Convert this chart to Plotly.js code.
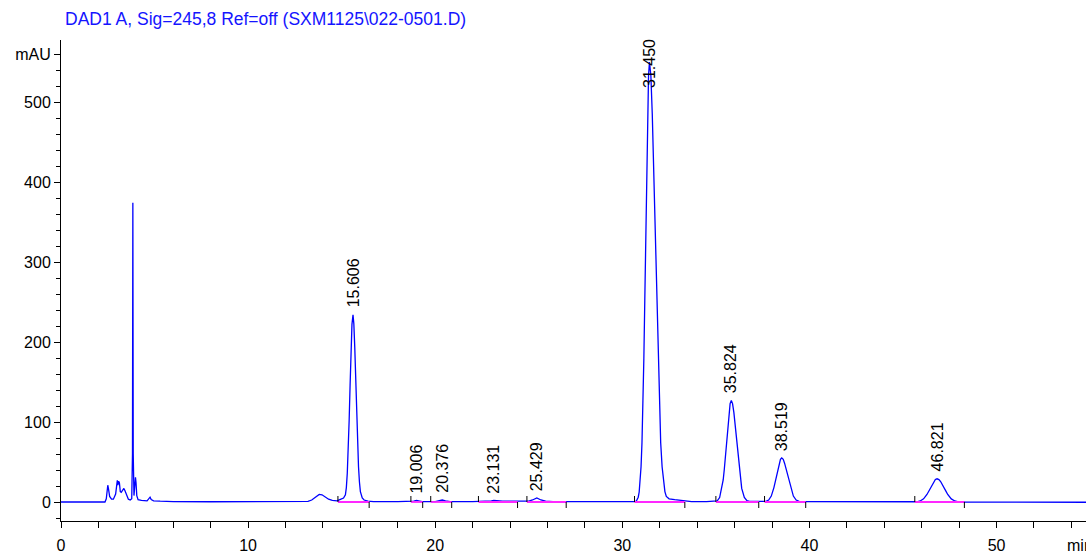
<!DOCTYPE html>
<html><head><meta charset="utf-8">
<script src="https://cdn.plot.ly/plotly-3.0.1.min.js"></script>
<style>html,body{margin:0;padding:0;background:#fff;}#chart{width:1086px;height:554px;}</style>
</head><body><div id="chart"></div>
<script>
// ---- data ----
const titleText = 'DAD1 A, Sig=245,8 Ref=off (SXM1125\\022-0501.D)';
const xTickVals = [0, 10, 20, 30, 40, 50];
const yTickVals = [0, 100, 200, 300, 400, 500, 560];
const yTickText = ['0', '100', '200', '300', '400', '500', 'mAU'];

// signal: [retention time (min), absorbance (mAU)]
const signalPoints = [
  [0,0],[1.5,0],[2.35,0],[2.42,4],[2.47,16],[2.50,21],[2.54,16],[2.60,7],[2.70,3.5],[2.80,3.5],
  [2.92,10],[2.98,25],[3.01,27],[3.04,21],[3.08,26],[3.12,24],[3.17,13],[3.22,12],[3.30,16],[3.36,17],
  [3.42,14],[3.50,8],[3.60,3.5],[3.70,2.5],[3.78,4],[3.82,60],[3.84,374],[3.86,60],[3.90,8],[3.94,20],
  [3.98,31],[4.01,24],[4.05,8],[4.12,3],[4.30,2],[4.60,1.5],[4.70,4],[4.76,6],[4.82,3],[4.95,1.5],
  [5.3,1],[6.0,0.5],[8.0,0.3],[10.0,0.2],[12.0,0.3],[13.2,0.8],[13.4,2.5],[13.6,6.5],[13.8,9.5],[13.95,9],
  [14.1,6.5],[14.3,3.5],[14.5,2],[14.75,1.5],[14.9,3],[15.0,4],[15.1,5],[15.2,9],[15.25,18],[15.3,36],
  [15.35,64],[15.4,102],[15.45,146],[15.5,190],[15.55,222],[15.606,234],[15.65,223],[15.7,193],[15.75,152],[15.8,110],
  [15.85,72],[15.9,44],[15.95,25],[16.0,13],[16.1,5],[16.2,2.5],[16.4,1],[16.7,0.5],[18.0,0.5],[18.7,0.5],
  [18.85,1.2],[19.0,2],[19.15,1.2],[19.3,0.5],[20.0,0.5],[20.2,1.5],[20.376,2.5],[20.55,1.5],[20.8,0.5],[22.0,0.5],
  [22.8,0.8],[23.0,1.5],[23.13,2],[23.3,1.5],[23.6,1],[24.5,1],[25.0,1.2],[25.2,2.5],[25.43,5],[25.65,2.5],
  [25.9,1],[26.3,0.5],[28,0.3],[30,0.3],[30.65,0.4],[30.75,1.2],[30.85,6],[30.90,12.5],[30.95,24],[31.00,44],
  [31.05,74],[31.10,119],[31.15,179],[31.20,252],[31.25,334],[31.30,415],[31.35,485],[31.40,533],[31.45,550],[31.525,533],
  [31.60,485],[31.675,415],[31.75,334],[31.825,252],[31.90,179],[31.975,119],[32.05,74],[32.125,44],[32.20,24],[32.275,13],
  [32.35,7],[32.5,4],[32.8,3],[33.1,2],[33.4,1],[33.7,0.5],[34.5,0.4],[34.95,0.5],[35.07,1.4],[35.20,5.6],
  [35.32,17],[35.39,27.5],[35.45,41],[35.51,58],[35.57,77],[35.64,96],[35.70,112],[35.76,123],[35.824,127],[35.89,123],
  [35.96,112],[36.03,96],[36.10,77],[36.17,58],[36.24,41],[36.31,27.5],[36.38,17],[36.52,5.6],[36.66,1.6],[36.80,0.8],
  [37.2,0.5],[37.54,0.5],[37.68,0.8],[37.82,2.4],[37.96,7.4],[38.10,18],[38.17,25],[38.24,33.4],[38.31,41.5],[38.38,48.5],
  [38.45,53.3],[38.519,55],[38.60,53.3],[38.67,48.5],[38.75,41.5],[38.83,33.4],[38.91,25.2],[38.98,17.9],[39.14,7.4],[39.29,2.4],
  [39.45,0.8],[39.6,0.4],[41,0.2],[43,0.2],[45,0.2],[45.56,0.2],[45.74,0.3],[45.92,1.3],[46.10,3.9],[46.28,9.4],
  [46.37,13.3],[46.46,17.6],[46.55,21.9],[46.64,25.6],[46.73,28.1],[46.821,29],[46.92,28.1],[47.01,25.6],[47.11,21.9],[47.20,17.6],
  [47.30,13.3],[47.39,9.4],[47.58,3.9],[47.77,1.3],[47.96,0.3],[48.3,0],[50,0],[52,-0.3],[54.8,-0.3]
];

// labelled peaks
const peakRT = [15.606, 19.006, 20.376, 23.131, 25.429, 31.450, 35.824, 38.519, 46.821];
const peakApex = [234, 2, 2.5, 2, 5, 550, 127, 55, 29];
const peakLabels = ['15.606', '19.006', '20.376', '23.131', '25.429', '31.450', '35.824', '38.519', '46.821'];

// integration baselines (start / end, min)
const baseStart = [14.8, 18.7, 19.76, 22.31, 24.9, 30.65, 35.0, 37.6, 45.63];
const baseEnd   = [16.47, 19.33, 20.88, 24.4, 27.0, 33.34, 37.29, 39.8, 48.28];

// ---- build figure ----
const xRange = [0, 54.78];
const yRange = [-23.75, 577.5];
const markLen = 7.5; // mAU, length of integration tick marks

const sigX = signalPoints.map(p => p[0]);
const sigY = signalPoints.map(p => p[1]);

const blX = [], blY = [];
baseStart.forEach((s, i) => { blX.push(s, baseEnd[i], null); blY.push(0, 0, null); });

const mkX = [], mkY = [];
baseStart.forEach(s => { mkX.push(s, s, null); mkY.push(0, markLen, null); });
baseEnd.forEach(e => { mkX.push(e, e, null); mkY.push(0, -markLen, null); });

const traces = [
  {x: sigX, y: sigY, type: 'scatter', mode: 'lines', line: {color: 'rgb(0,0,255)', width: 1.3}, hoverinfo: 'skip'},
  {x: blX, y: blY, type: 'scatter', mode: 'lines', line: {color: 'rgb(255,40,255)', width: 1.8}, hoverinfo: 'skip'},
  {x: mkX, y: mkY, type: 'scatter', mode: 'lines', line: {color: '#000', width: 1}, hoverinfo: 'skip'}
];

const plotH = 554 - 40 - 33;
const pxPerUnit = plotH / (yRange[1] - yRange[0]);
const labelLenPx = 52;
const annotations = peakRT.map((t, i) => {
  const apexPx = (peakApex[i] - yRange[0]) * pxPerUnit;
  const fits = apexPx + 6 + labelLenPx < plotH;
  return fits ? {
    x: t, y: peakApex[i], xref: 'x', yref: 'y', text: peakLabels[i], textangle: -90,
    showarrow: false, xanchor: 'center', yanchor: 'bottom', yshift: 5,
    font: {size: 16, color: '#000'}
  } : {
    x: t, y: yRange[1], xref: 'x', yref: 'y', text: peakLabels[i], textangle: -90,
    showarrow: false, xanchor: 'center', yanchor: 'top', yshift: 3,
    font: {size: 16, color: '#000'}
  };
});
annotations.push({
  x: (1065 - 61) / 1025, y: -(545 - 521) / plotH, xref: 'paper', yref: 'paper',
  text: 'min', showarrow: false, xanchor: 'left', yanchor: 'middle', font: {size: 16, color: '#000'}
});

const xMinor = [];
for (let v = 2; v <= 54; v += 2) if (v % 10 !== 0) xMinor.push(v);
const yMinor = [];
for (let v = -20; v <= 560; v += 20) if (v % 100 !== 0 && v !== 560) yMinor.push(v);

const layout = {
  width: 1086, height: 554,
  margin: {l: 61, r: 0, t: 40, b: 33, pad: 0},
  paper_bgcolor: '#fff', plot_bgcolor: '#fff',
  showlegend: false,
  font: {family: 'Arial, "Liberation Sans", sans-serif', size: 16, color: '#000'},
  title: {text: titleText, xref: 'container', yref: 'container', x: 65 / 1086, xanchor: 'left',
          y: 1 - 19 / 554, yanchor: 'middle', font: {size: 17.5, color: 'rgb(20,20,255)'}},
  xaxis: {
    range: xRange, showline: true, linecolor: '#000', linewidth: 1, mirror: false,
    ticks: 'outside', ticklen: 6, tickwidth: 1, tickcolor: '#000',
    tickmode: 'array', tickvals: xTickVals, showgrid: false, zeroline: false,
    tickfont: {size: 16, color: '#000'}, ticklabelstandoff: 4,
    minor: {tickmode: 'array', tickvals: xMinor, ticks: 'outside', ticklen: 6, tickcolor: '#000', tickwidth: 1, showgrid: false}
  },
  yaxis: {
    range: yRange, showline: true, linecolor: '#000', linewidth: 1,
    ticks: 'outside', ticklen: 6, tickwidth: 1, tickcolor: '#000',
    tickmode: 'array', tickvals: yTickVals, ticktext: yTickText, showgrid: false, zeroline: false,
    tickfont: {size: 16, color: '#000'},
    minor: {tickmode: 'array', tickvals: yMinor, ticks: 'outside', ticklen: 4, tickcolor: '#000', tickwidth: 1, showgrid: false}
  },
  annotations: annotations
};

Plotly.newPlot('chart', traces, layout, {staticPlot: true, displayModeBar: false});
</script></body></html>
